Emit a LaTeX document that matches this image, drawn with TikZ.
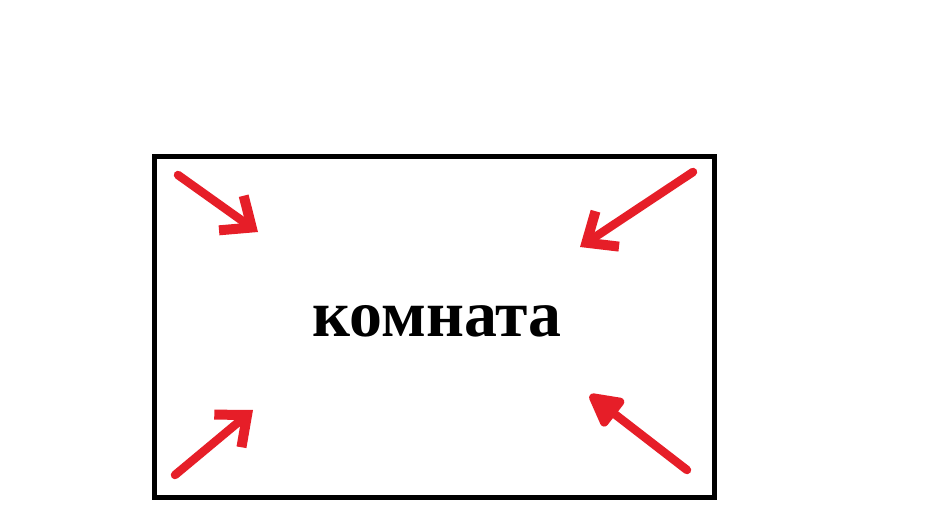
\documentclass[tikz,border=0pt]{standalone}
\usepackage{fontspec}
\setmainfont{Liberation Serif}
\usetikzlibrary{arrows.meta}
\tikzset{
    wall/.style={draw, line width=0.1cm},
    pointer/.style={draw=arrowred, line width=0.17cm, line cap=round, line join=round,
        -{Straight Barb[length=0.5cm, width=0.85cm, line width=0.2cm]}},
    fullpointer/.style={draw=arrowred, line width=0.17cm, line cap=round, line join=round,
        -{Triangle[length=0.75cm, width=0.75cm, round]}},
    label/.style={font=\bfseries\fontsize{37.5}{44}\selectfont}
}
\definecolor{arrowred}{RGB}{230,30,40}
\begin{document}
\begin{tikzpicture}[x=0.02cm, y=-0.02cm]
    \useasboundingbox (0,0) rectangle (941,507);

    % Draw the room
    \draw[wall] (154,156.5) rectangle (714,497.5);
    \node[label] (room) at (437,321) {комната};

    % Arrow ends
    \coordinate (a1) at (178,175);
    \coordinate (b1) at (258,232);
    \coordinate (a2) at (693,172);
    \coordinate (b2) at (580,247);
    \coordinate (a3) at (175,475);
    \coordinate (b3) at (253,410);
    \coordinate (a4) at (687,470);
    \coordinate (b4) at (590,395);

    % Draw the arrows
    \draw[pointer] (a1) -- (b1);
    \draw[pointer] (a2) -- (b2);
    \draw[pointer] (a3) -- (b3);
    \draw[fullpointer] (a4) -- (b4);
\end{tikzpicture}
\end{document}
